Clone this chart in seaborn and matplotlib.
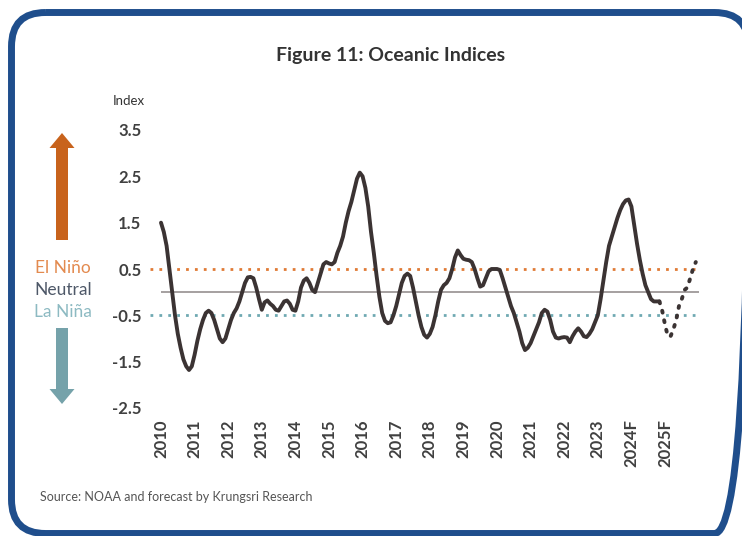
import numpy as np
import pandas as pd
import seaborn as sns
import matplotlib
matplotlib.use('Agg')
import matplotlib.pyplot as plt
from matplotlib.patches import FancyArrow, FancyBboxPatch

# monthly oceanic index, Jan 2010 .. Nov 2024 (observed)
oni_2010 = [1.5, 1.3, 1.0, 0.5, 0.0, -0.5, -0.9, -1.2, -1.45, -1.6, -1.68, -1.6]
oni_2011 = [-1.35, -1.05, -0.8, -0.6, -0.45, -0.4, -0.45, -0.6, -0.8, -1.0, -1.08, -1.0]
oni_2012 = [-0.8, -0.6, -0.45, -0.35, -0.2, 0.0, 0.2, 0.32, 0.33, 0.3, 0.1, -0.15]
oni_2013 = [-0.38, -0.22, -0.18, -0.25, -0.3, -0.38, -0.4, -0.3, -0.2, -0.18, -0.25, -0.38]
oni_2014 = [-0.4, -0.2, 0.1, 0.25, 0.3, 0.2, 0.05, 0.0, 0.2, 0.4, 0.6, 0.65]
oni_2015 = [0.62, 0.6, 0.65, 0.85, 1.0, 1.2, 1.5, 1.75, 1.95, 2.2, 2.45, 2.58]
oni_2016 = [2.5, 2.25, 1.85, 1.3, 0.85, 0.35, -0.1, -0.45, -0.62, -0.67, -0.65, -0.5]
oni_2017 = [-0.3, -0.05, 0.2, 0.35, 0.4, 0.35, 0.1, -0.2, -0.5, -0.75, -0.92, -0.98]
oni_2018 = [-0.9, -0.75, -0.5, -0.2, 0.05, 0.15, 0.2, 0.3, 0.5, 0.75, 0.9, 0.8]
oni_2019 = [0.72, 0.7, 0.69, 0.65, 0.5, 0.3, 0.12, 0.15, 0.3, 0.45, 0.5, 0.5]
oni_2020 = [0.5, 0.48, 0.3, 0.1, -0.1, -0.3, -0.45, -0.65, -0.85, -1.1, -1.25, -1.2]
oni_2021 = [-1.1, -0.95, -0.8, -0.65, -0.45, -0.38, -0.42, -0.6, -0.85, -0.98, -1.0, -0.98]
oni_2022 = [-0.97, -0.98, -1.08, -0.95, -0.85, -0.78, -0.85, -0.95, -0.97, -0.9, -0.8, -0.65]
oni_2023 = [-0.5, -0.15, 0.25, 0.65, 1.0, 1.2, 1.4, 1.6, 1.77, 1.9, 1.98, 2.0]
oni_2024 = [1.85, 1.45, 1.05, 0.7, 0.4, 0.15, 0.0, -0.15, -0.2, -0.2, -0.2]

# forecast, Nov 2024 .. Dec 2025
forecast = [-0.2, -0.4, -0.7, -0.95, -0.95, -0.8, -0.6, -0.3, -0.15, 0.05, 0.1, 0.3, 0.5, 0.65]

year_labels = ['2010', '2011', '2012', '2013', '2014', '2015', '2016', '2017',
               '2018', '2019', '2020', '2021', '2022', '2023', '2024F', '2025F']
y_ticks = [3.5, 2.5, 1.5, 0.5, -0.5, -1.5, -2.5]

actual = (oni_2010 + oni_2011 + oni_2012 + oni_2013 + oni_2014 + oni_2015 + oni_2016
          + oni_2017 + oni_2018 + oni_2019 + oni_2020 + oni_2021 + oni_2022 + oni_2023 + oni_2024)
df_act = pd.DataFrame({'month': np.arange(len(actual)), 'index': actual})
df_fc = pd.DataFrame({'month': np.arange(len(actual) - 1, len(actual) - 1 + len(forecast)),
                      'index': forecast})
n_months = len(actual) - 1 + len(forecast)

sns.set_style('white')
plt.rcParams['font.family'] = ['Lato', 'DejaVu Sans']

W, H = 742, 536
fig = plt.figure(figsize=(W / 100, H / 100), dpi=100)

# overlay for frame, arrows, labels (pixel coords)
ov = fig.add_axes([0, 0, 1, 1])
ov.set_xlim(0, W)
ov.set_ylim(H, 0)
ov.axis('off')
ov.add_patch(FancyBboxPatch((11.5, 12.5), 737, 521, boxstyle='round,pad=0,rounding_size=34',
                            fill=False, edgecolor='#1F4E8C', lw=5))
ov.add_patch(FancyArrow(62, 240, 0, -107, width=12, head_width=25, head_length=15,
                        length_includes_head=True, color='#C8631C', lw=0))
ov.add_patch(FancyArrow(62, 328, 0, 76, width=12, head_width=25, head_length=15,
                        length_includes_head=True, color='#75A2AA', lw=0))
ov.text(63, 268, 'El Niño', ha='center', va='center', fontsize=12.5, color='#E38A4F')
ov.text(63, 290, 'Neutral', ha='center', va='center', fontsize=12.5, color='#4E5868')
ov.text(63, 312, 'La Niña', ha='center', va='center', fontsize=12.5, color='#8DBAC2')
ov.text(391, 55, 'Figure 11: Oceanic Indices', ha='center', va='center', fontsize=14,
        fontweight='bold', color='#333333')
ov.text(129, 101, 'Index', ha='center', va='center', fontsize=9.5, color='#333333')
ov.text(40, 497, 'Source: NOAA and forecast by Krungsri Research', ha='left', va='center',
        fontsize=9, color='#555555')

# main axes: month 0 at x=161px, 2.8 px per month
x0, dx = 161, 2.8
xl, xr = -5, 194
left_px = x0 + dx * xl
right_px = x0 + dx * xr
ax = fig.add_axes([left_px / W, (H - 408) / H, (right_px - left_px) / W, (408 - 130) / H])
ax.set_xlim(xl, xr)
ax.set_ylim(-2.5, 3.5)
ax.patch.set_alpha(0)

ax.hlines(0.5, -4, n_months + 1, colors='#E07A35', linestyles=(0, (1, 2.2)), lw=2)
ax.hlines(-0.5, -4, n_months + 1, colors='#6FA9B2', linestyles=(0, (1, 2.2)), lw=2)
ax.hlines(0, 0, n_months, colors='#9E9898', lw=1.3)

sns.lineplot(data=df_act, x='month', y='index', ax=ax, color='#3B3333', lw=2.8)
sns.lineplot(data=df_fc, x='month', y='index', ax=ax, color='#3B3333', lw=2.8,
             linestyle=(0, (0.5, 2.0)), dash_capstyle='round')

ax.set_xticks(np.arange(len(year_labels)) * 12)
ax.set_xticklabels(year_labels, rotation=90, fontsize=12, fontweight='bold', color='#404040')
ax.set_yticks(y_ticks)
ax.set_yticklabels([f'{v:g}' for v in y_ticks], fontsize=12, fontweight='bold', color='#404040')
ax.tick_params(axis='both', length=0)
ax.tick_params(axis='x', pad=8)
ax.tick_params(axis='y', pad=4)
ax.set_xlabel('')
ax.set_ylabel('')
sns.despine(ax=ax, left=True, bottom=True)

fig.savefig('out.png', dpi=100, facecolor='white')
